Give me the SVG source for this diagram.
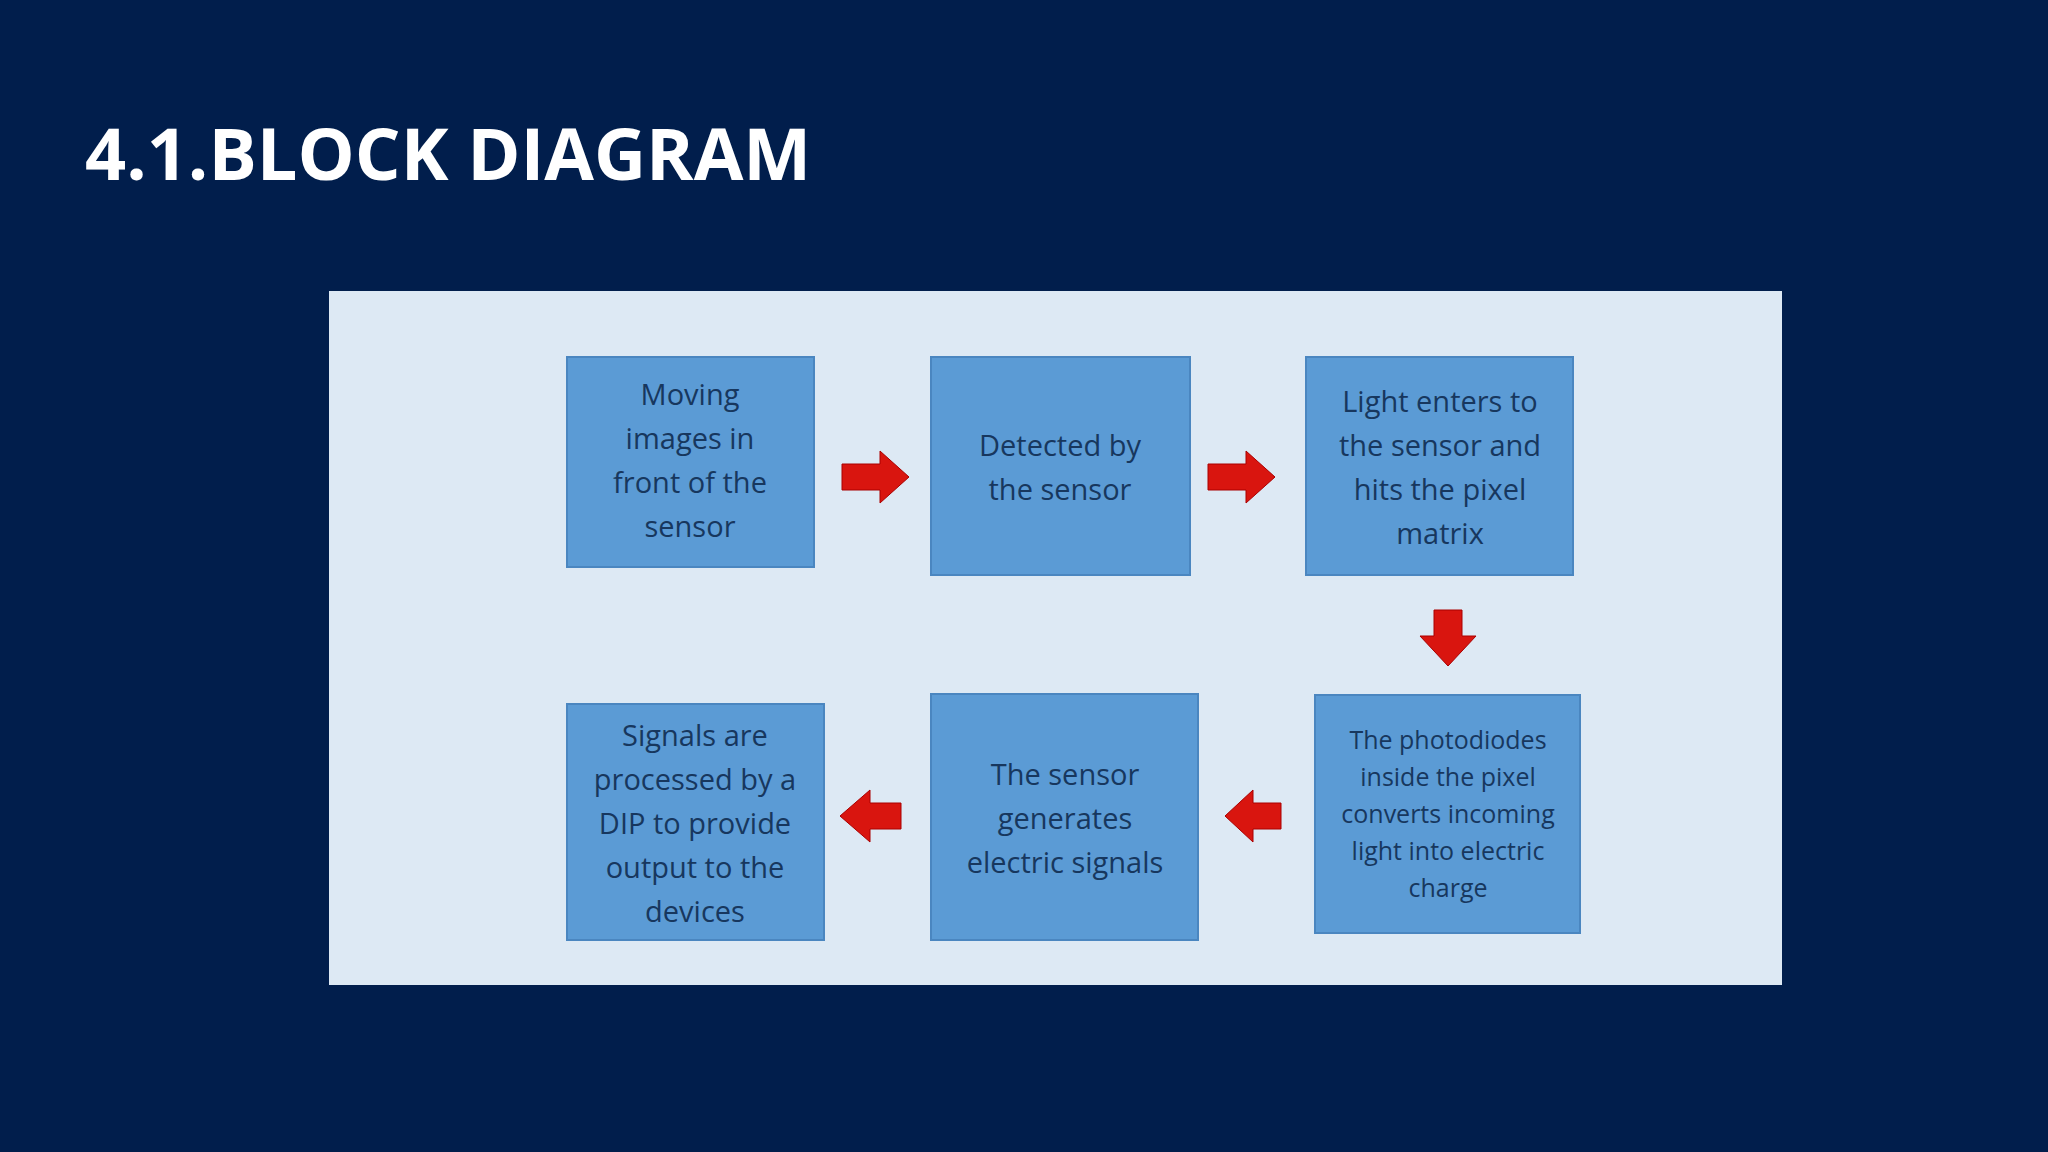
<svg xmlns="http://www.w3.org/2000/svg" width="2048" height="1152" viewBox="0 0 2048 1152">
<style>
.box{fill:#5b9bd5;stroke:#4a86c0;stroke-width:2}
.t{font-family:"Open Sans","Liberation Sans",sans-serif;font-size:29px;fill:#17375e;text-anchor:middle}
.s{font-size:25px}
.arr{fill:#d9150f;stroke:#a00;stroke-width:1}
</style>
<rect width="2048" height="1152" fill="#011e4c"/>
<text x="85" y="180" font-family="Open Sans, Liberation Sans, sans-serif" font-weight="bold" font-size="72" fill="#ffffff">4.1.BLOCK DIAGRAM</text>
<rect x="329" y="291" width="1453" height="694" fill="#dde9f4"/>
<g id="n1"><rect class="box" x="567" y="357" width="247" height="210"/>
<text class="t" x="690" y="405">Moving</text><text class="t" x="690" y="449">images in</text><text class="t" x="690" y="493">front of the</text><text class="t" x="690" y="537">sensor</text></g>
<g id="n2"><rect class="box" x="931" y="357" width="259" height="218"/>
<text class="t" x="1060" y="456">Detected by</text><text class="t" x="1060" y="500">the sensor</text></g>
<g id="n3"><rect class="box" x="1306" y="357" width="267" height="218"/>
<text class="t" x="1440" y="412">Light enters to</text><text class="t" x="1440" y="456">the sensor and</text><text class="t" x="1440" y="500">hits the pixel</text><text class="t" x="1440" y="544">matrix</text></g>
<g id="n4"><rect class="box" x="1315" y="695" width="265" height="238"/>
<text class="t s" x="1448" y="749">The photodiodes</text><text class="t s" x="1448" y="786">inside the pixel</text><text class="t s" x="1448" y="823">converts incoming</text><text class="t s" x="1448" y="860">light into electric</text><text class="t s" x="1448" y="897">charge</text></g>
<g id="n5"><rect class="box" x="931" y="694" width="267" height="246"/>
<text class="t" x="1065" y="785">The sensor</text><text class="t" x="1065" y="829">generates</text><text class="t" x="1065" y="873">electric signals</text></g>
<g id="n6"><rect class="box" x="567" y="704" width="257" height="236"/>
<text class="t" x="695" y="746">Signals are</text><text class="t" x="695" y="790">processed by a</text><text class="t" x="695" y="834">DIP to provide</text><text class="t" x="695" y="878">output to the</text><text class="t" x="695" y="922">devices</text></g>
<g id="connectors">
<polygon class="arr" points="842,464 880,464 880,451 909,477 880,503 880,490 842,490"/>
<polygon class="arr" points="1208,464 1246,464 1246,451 1275,477 1246,503 1246,490 1208,490"/>
<polygon class="arr" points="1434,610 1462,610 1462,636 1476,636 1448,666 1420,636 1434,636"/>
<polygon class="arr" points="1281,803 1253,803 1253,790 1225,816 1253,842 1253,829 1281,829"/>
<polygon class="arr" points="901,803 870,803 870,790 840,816 870,842 870,829 901,829"/>
</g>
</svg>
